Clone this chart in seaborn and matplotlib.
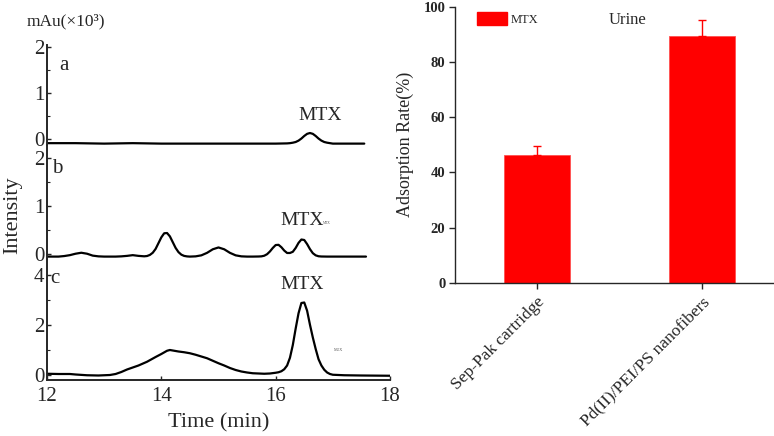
import numpy as np
import pandas as pd
import matplotlib
matplotlib.use("Agg")
import matplotlib.pyplot as plt
from matplotlib.patches import Patch
from matplotlib.ticker import MultipleLocator
import seaborn as sns

# ---------------- data ----------------
# chromatogram a : time (min), intensity (x10^3 mAu)
time_a = [12.0, 12.5, 13.0, 13.5, 14.0, 14.5, 15.0, 15.5, 16.0, 16.2, 16.25, 16.3, 16.35,
          16.4, 16.45, 16.5, 16.55, 16.6, 16.65, 16.7, 16.75, 16.8, 16.85, 16.9, 16.95,
          17.0, 17.2, 17.55]
int_a = [-0.09, -0.09, -0.10, -0.09, -0.10, -0.10, -0.10, -0.10, -0.10, -0.095, -0.09, -0.08,
         -0.065, -0.035, 0.01, 0.066, 0.112, 0.13, 0.112, 0.066, 0.01, -0.035, -0.065, -0.08,
         -0.09, -0.10, -0.10, -0.10]

time_b = [12.0, 12.2, 12.3, 12.4, 12.5, 12.6, 12.7, 12.8, 12.9, 13.0, 13.2, 13.3, 13.4, 13.5,
          13.6, 13.7, 13.75, 13.8, 13.85, 13.9, 13.95, 14.0, 14.05, 14.1, 14.15, 14.2, 14.25,
          14.3, 14.35, 14.4, 14.45, 14.5, 14.6, 14.7, 14.8, 14.9, 15.0, 15.1, 15.2, 15.3,
          15.4, 15.5, 15.6, 15.7, 15.75, 15.8, 15.85, 15.9, 15.95, 16.0, 16.05, 16.1, 16.15,
          16.2, 16.25, 16.3, 16.35, 16.4, 16.45, 16.5, 16.55, 16.6, 16.65, 16.7, 16.75,
          16.8, 16.9, 17.0, 17.2, 17.58]
int_b = [-0.05, -0.05, -0.039, -0.02, 0.01, 0.03, 0.01, -0.03, -0.045, -0.05, -0.05, -0.045,
         -0.035, -0.02, -0.035, -0.044, -0.038, -0.015, 0.03, 0.11, 0.23, 0.35, 0.435, 0.44,
         0.37, 0.25, 0.13, 0.043, -0.01, -0.036, -0.046, -0.05, -0.045, -0.024, 0.028, 0.102,
         0.14, 0.102, 0.028, -0.024, -0.045, -0.05, -0.05, -0.048, -0.045, -0.032, 0.0, 0.057,
         0.13, 0.19, 0.195, 0.145, 0.075, 0.025, 0.025, 0.05, 0.13, 0.235, 0.305, 0.295, 0.21,
         0.105, 0.021, -0.024, -0.043, -0.048, -0.05, -0.05, -0.05, -0.05]

time_c = [12.0, 12.2, 12.4, 12.5, 12.7, 12.9, 13.1, 13.2, 13.3, 13.4, 13.6, 13.75, 13.9,
          14.0, 14.1, 14.15, 14.2, 14.3, 14.4, 14.5, 14.6, 14.7, 14.8, 14.9, 15.0, 15.1,
          15.2, 15.3, 15.4, 15.5, 15.6, 15.7, 15.8, 15.9, 16.0, 16.05, 16.1, 16.15, 16.2,
          16.25, 16.3, 16.35, 16.4, 16.45, 16.5, 16.55, 16.6, 16.65, 16.7, 16.75, 16.8,
          16.85, 16.9, 16.95, 17.0, 17.2, 17.5, 18.0]
int_c = [0.05, 0.04, 0.04, 0.02, -0.01, -0.02, 0.0, 0.04, 0.12, 0.22, 0.38, 0.53, 0.72,
         0.84, 0.97, 1.0, 0.98, 0.94, 0.91, 0.87, 0.81, 0.74, 0.67, 0.57, 0.47, 0.38,
         0.28, 0.2, 0.14, 0.1, 0.07, 0.06, 0.05, 0.06, 0.09, 0.11, 0.15, 0.23, 0.38,
         0.69, 1.2, 1.86, 2.47, 2.88, 2.9, 2.57, 2.01, 1.5, 1.04, 0.63, 0.38,
         0.21, 0.1, 0.04, 0.01, -0.01, -0.02, -0.03]

x_ticks = [12, 14, 16, 18]

# bar chart
categories = ["Sep-Pak cartridge", "Pd(II)/PEI/PS nanofibers"]
adsorption = [46.3, 89.3]
adsorption_err = [3.2, 5.8]
y_ticks_bar = [0, 20, 40, 60, 80, 100]

# ---------------- style ----------------
sns.set_theme(style="white")
plt.rcParams["font.family"] = ["Liberation Serif", "DejaVu Serif"]
plt.rcParams["axes.linewidth"] = 1.4

W, H = 774, 436
fig = plt.figure(figsize=(W / 100, H / 100), dpi=100)


def px_axes(left, top, right, bottom):
    return fig.add_axes([left / W, 1 - bottom / H, (right - left) / W, (bottom - top) / H])


ax_a = px_axes(47, 45, 390, 145)
ax_b = px_axes(47, 145, 390, 259)
ax_c = px_axes(47, 259, 390, 380)

panels = [
    (ax_a, time_a, int_a, (-0.13, 2.04), [0, 1, 2], 0.5),
    (ax_b, time_b, int_b, (-0.10, 2.27), [0, 1, 2], 0.5),
    (ax_c, time_c, int_c, (-0.20, 4.64), [0, 2, 4], 1.0),
]
for ax, t, y, ylim, yt, minor in panels:
    df = pd.DataFrame({"t": t, "y": y})
    sns.lineplot(data=df, x="t", y="y", ax=ax, color="black", lw=1.6, sort=False)
    ax.set_xlim(12, 18)
    ax.set_ylim(*ylim)
    ax.set_yticks(yt)
    ax.yaxis.set_minor_locator(MultipleLocator(minor))
    ax.set_xlabel("")
    ax.set_ylabel("")
    for s in ["top", "right"]:
        ax.spines[s].set_visible(False)
    ax.patch.set_alpha(0)
    ax.tick_params(axis="y", which="major", direction="in", length=3, width=1,
                   labelsize=15, pad=2, left=True)
    ax.tick_params(axis="y", which="minor", direction="in", length=2, width=0.8, left=True)

for ax in (ax_a, ax_b):
    ax.spines["bottom"].set_visible(False)
    ax.set_xticks([])

ax_c.set_xticks(x_ticks)
ax_c.tick_params(axis="x", direction="in", length=3, width=1, labelsize=15, pad=5, bottom=True)
ax_c.spines["bottom"].set_linewidth(1.4)

ax_a.text(0.035, 0.79, "a", transform=ax_a.transAxes, fontsize=15, va="center", ha="left")
ax_b.text(0.015, 0.79, "b", transform=ax_b.transAxes, fontsize=15, va="center", ha="left")
ax_c.text(0.01, 0.84, "c", transform=ax_c.transAxes, fontsize=15, va="center", ha="left")

ax_a.text(0.796, 0.29, "MTX", transform=ax_a.transAxes, fontsize=14, ha="center", va="center")
ax_b.text(0.743, 0.34, "MTX", transform=ax_b.transAxes, fontsize=14, ha="center", va="center")
ax_b.text(0.815, 0.315, "MTX", transform=ax_b.transAxes, fontsize=2.5, ha="center",
          va="center", color="#555555")
ax_c.text(0.743, 0.79, "MTX", transform=ax_c.transAxes, fontsize=14, ha="center", va="center")
ax_c.text(0.85, 0.25, "MTX", transform=ax_c.transAxes, fontsize=3, ha="center", va="center",
          color="#555555")

fig.text(66 / W, 1 - 21 / H, "mAu(×10³)", fontsize=12.5, ha="center", va="center")
fig.text(13 / W, 1 - 215 / H, "Intensity", fontsize=16, rotation=90, ha="center", va="center")
fig.text(219 / W, 1 - 423 / H, "Time (min)", fontsize=16, ha="center", va="center")

# ---------------- bar chart ----------------
ax_r = px_axes(455, 6.5, 774, 283)
bar_df = pd.DataFrame({"cat": categories, "val": adsorption})
sns.barplot(data=bar_df, x="cat", y="val", color="red", saturation=1, width=0.4,
            ax=ax_r, errorbar=None, edgecolor="#ff5050", linewidth=0.6)
centers = [p.get_x() + p.get_width() / 2 for p in ax_r.patches]
ax_r.errorbar(centers, adsorption, yerr=[np.zeros(len(adsorption)), adsorption_err],
              fmt="none", ecolor="red", elinewidth=1.0, capsize=3, capthick=1.0)
ax_r.set_xlim(-0.497, 1.436)
ax_r.set_ylim(0, 100)
ax_r.set_yticks(y_ticks_bar)
for s in ["top", "right"]:
    ax_r.spines[s].set_visible(False)
ax_r.spines["left"].set_linewidth(1.0)
ax_r.spines["bottom"].set_linewidth(1.0)
ax_r.tick_params(axis="y", direction="out", length=4, width=1, labelsize=10.5, left=True, pad=3)
ax_r.tick_params(axis="x", direction="out", length=4, width=1, bottom=True, pad=4)
for lab in ax_r.get_yticklabels():
    lab.set_fontweight("bold")
ax_r.set_xticks(range(len(categories)))
ax_r.set_xticklabels(categories, rotation=45, ha="right", va="top",
                     rotation_mode="anchor", fontsize=12.5)
ax_r.set_xlabel("")
ax_r.set_ylabel("Adsorption Rate(%)", fontsize=13)
ax_r.yaxis.set_label_coords(-0.13, 0.5)
ax_r.legend(handles=[Patch(facecolor="red", edgecolor="red", label="MTX")],
            loc="upper left", bbox_to_anchor=(0.052, 0.997), frameon=False, fontsize=9,
            handlelength=2.4, handleheight=1.2, borderaxespad=0, handletextpad=0.3)
ax_r.text(0.542, 0.951, "Urine", transform=ax_r.transAxes, fontsize=12, ha="center",
          va="center")

fig.savefig("out.png", dpi=100)
